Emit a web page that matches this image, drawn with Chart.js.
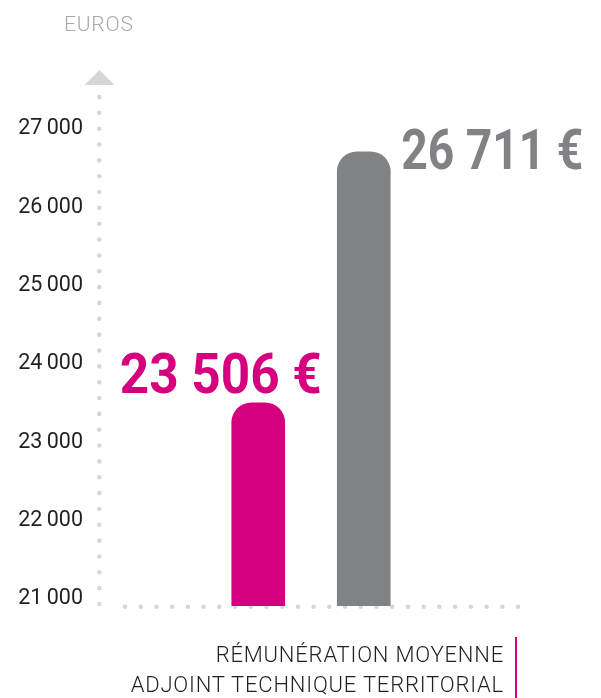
<!DOCTYPE html>
<html lang="fr">
<head>
<meta charset="utf-8">
<title>Rémunération moyenne adjoint technique territorial</title>
<script src="https://cdn.jsdelivr.net/npm/chart.js@4.4.1/dist/chart.umd.min.js"></script>
<style>
  html, body { margin: 0; padding: 0; background: #fff; }
  #wrap { position: relative; width: 601px; height: 698px; overflow: hidden; }
  #chart { position: absolute; left: 0; top: 0; }
  .unit {
    position: absolute; left: 64px; top: 14px; letter-spacing: 0.8px;
    font: 300 21px/21px Roboto, sans-serif; color: #a7a9ac;
  }
  .caption {
    position: absolute; right: 97px; top: 640px; letter-spacing: 0.8px;
    font: 300 22px/30px Roboto, sans-serif; color: #231f20;
    text-align: right; white-space: nowrap;
  }
  .mark {
    position: absolute; left: 515px; top: 637px; width: 1.5px; height: 61px;
    background: #d6007f;
  }
</style>
</head>
<body>
<div id="wrap">
  <canvas id="chart" width="601" height="698"></canvas>
  <div class="unit">EUROS</div>
  <div class="caption">RÉMUNÉRATION MOYENNE<br>ADJOINT TECHNIQUE TERRITORIAL</div>
  <div class="mark"></div>
</div>
<script>
  // data
  const categories = ['', 'Rémunération A', 'Rémunération B', ''];
  const salaries = [null, 23506, 26711, null];
  const barColors = ['#d6007f', '#d6007f', '#808285', '#808285'];
  const yTicks = [21000, 22000, 23000, 24000, 25000, 26000, 27000];

  function formatNumber(v) {
    return String(v).replace(/\B(?=(\d{3})+(?!\d))/g, ' ');
  }

  const dotColor = '#d5d6d8';

  // dotted axes + arrow, drawn under the bars
  const dottedAxes = {
    id: 'dottedAxes',
    beforeDatasetsDraw(chart) {
      const ctx = chart.ctx;
      const area = chart.chartArea;
      ctx.save();
      ctx.fillStyle = dotColor;

      // y axis
      const yBottom = area.bottom - 2;
      const yStep = (yBottom - area.top) / 32;
      for (let i = 0; i <= 32; i++) {
        ctx.beginPath();
        ctx.arc(area.left - 0.7, yBottom - i * yStep, 2.3, 0, Math.PI * 2);
        ctx.fill();
      }

      // x axis
      const xStart = area.left + 25;
      const xEnd = area.right - 4;
      const xStep = (xEnd - xStart) / 25;
      for (let i = 0; i <= 25; i++) {
        ctx.beginPath();
        ctx.arc(xStart + i * xStep, area.bottom + 0.7, 2.3, 0, Math.PI * 2);
        ctx.fill();
      }

      // arrow head
      ctx.beginPath();
      ctx.moveTo(area.left - 15.5, area.top - 12);
      ctx.lineTo(area.left + 14.5, area.top - 12);
      ctx.lineTo(area.left - 0.5, area.top - 27);
      ctx.closePath();
      ctx.fill();
      ctx.restore();
    }
  };

  // big value labels next to the bars
  const valueLabels = {
    id: 'valueLabels',
    afterDatasetsDraw(chart) {
      const ctx = chart.ctx;
      const bars = chart.getDatasetMeta(0).data;
      ctx.save();
      ctx.font = 'bold 56px Roboto, sans-serif';
      ctx.textBaseline = 'alphabetic';
      salaries.forEach((v, i) => {
        if (v == null) return;
        const bar = bars[i];
        const text = formatNumber(v) + ' €';
        ctx.fillStyle = barColors[i];
        if (i === 1) {
          ctx.textAlign = 'right';
          ctx.fillText(text, bar.x + bar.width / 2 + 37, bar.y - 10, 202);
        } else {
          ctx.textAlign = 'left';
          ctx.fillText(text, bar.x + bar.width / 2 + 11, bar.y + 17, 182);
        }
      });
      ctx.restore();
    }
  };

  new Chart(document.getElementById('chart'), {
    type: 'bar',
    data: {
      labels: categories,
      datasets: [{
        data: salaries,
        backgroundColor: barColors,
        barThickness: 53,
        borderRadius: 20,
        borderSkipped: 'start'
      }]
    },
    options: {
      responsive: false,
      animation: false,
      layout: { padding: { top: 97, bottom: 92, right: 79, left: 0 } },
      plugins: {
        legend: { display: false },
        tooltip: { enabled: false }
      },
      scales: {
        x: { display: false },
        y: {
          min: 20910,
          max: 27410,
          grid: { display: false, drawTicks: false },
          border: { display: false },
          afterBuildTicks(scale) {
            scale.ticks = yTicks.map(value => ({ value }));
          },
          afterFit(scale) {
            scale.width = 100;
          },
          ticks: {
            padding: 17,
            color: '#231f20',
            font: { family: 'Roboto', size: 21.5, weight: '400' },
            callback: v => formatNumber(v).replace(' ', '\u2009')
          }
        }
      }
    },
    plugins: [dottedAxes, valueLabels]
  });
</script>
</body>
</html>
